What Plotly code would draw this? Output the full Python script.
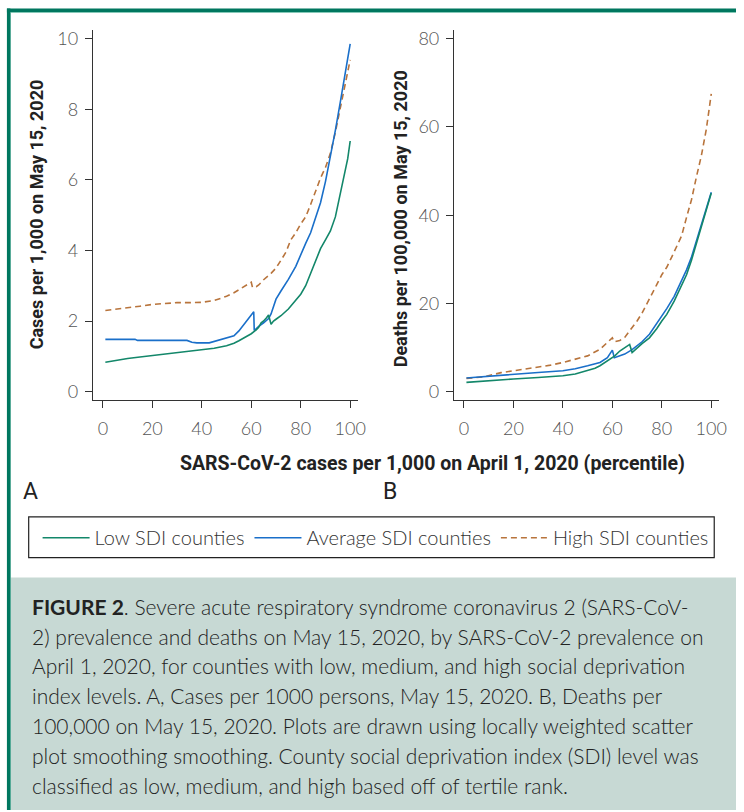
import plotly.graph_objects as go

W, H = 744, 812

# ---------------- data ----------------
# Panel A: cases per 1,000 on May 15, 2020
a_low_x = [1, 5, 10, 15, 20, 25, 30, 35, 40, 45, 50, 53, 55, 58, 60, 62, 63, 64, 65, 66, 67, 68, 69, 70,
           72, 75, 78, 80, 82, 84, 86, 88, 90, 92, 94, 96, 98, 99, 100]
a_low_y = [0.83, 0.88, 0.94, 0.98, 1.02, 1.06, 1.10, 1.14, 1.18, 1.23, 1.30, 1.37, 1.44, 1.55, 1.64, 1.75,
           1.82, 1.95, 2.00, 2.08, 2.17, 1.91, 2.00, 2.05, 2.15, 2.34, 2.58, 2.76, 3.00, 3.35, 3.75, 4.05,
           4.30, 4.55, 4.95, 5.60, 6.35, 6.60, 7.10]

a_avg_x = [1, 13, 14, 34, 36, 38, 43, 45, 48, 50, 53, 55, 57, 59, 61, 61.2, 63, 65, 67, 68, 70, 72, 75,
           78, 80, 82, 84, 86, 88, 90, 92, 94, 96, 98, 100]
a_avg_y = [1.48, 1.48, 1.45, 1.45, 1.40, 1.38, 1.38, 1.42, 1.48, 1.53, 1.58, 1.72, 1.90, 2.10, 2.26, 1.73,
           1.85, 1.95, 2.07, 2.20, 2.62, 2.85, 3.18, 3.55, 3.89, 4.20, 4.50, 4.90, 5.35, 5.95, 6.65, 7.40,
           8.20, 9.05, 9.85]

a_high_x = [1, 5, 10, 15, 20, 25, 30, 35, 40, 45, 50, 53, 55, 57, 59, 60, 60.5, 62, 63, 65, 68, 70, 72,
            74, 76, 78, 80, 82, 84, 86, 88, 90, 92, 94, 96, 98, 100]
a_high_y = [2.30, 2.33, 2.37, 2.42, 2.47, 2.50, 2.52, 2.52, 2.53, 2.58, 2.70, 2.80, 2.89, 2.98, 3.08, 3.10,
            2.95, 2.97, 3.02, 3.17, 3.35, 3.50, 3.72, 3.95, 4.30, 4.50, 4.75, 4.95, 5.30, 5.70, 6.05, 6.35,
            6.75, 7.35, 8.00, 8.65, 9.40]

# Panel B: deaths per 100,000 on May 15, 2020
b_low_x = [1, 10, 20, 30, 40, 45, 50, 53, 55, 58, 61, 63, 65, 67, 68, 70, 72, 75, 78, 80, 82, 85, 88,
           90, 92, 94, 96, 98, 100]
b_low_y = [2.1, 2.5, 2.85, 3.2, 3.6, 4.0, 4.73, 5.3, 5.86, 7.0, 8.1, 9.2, 10.0, 10.7, 8.86, 10.0, 10.9,
           12.2, 14.3, 16.0, 17.5, 20.5, 24.0, 26.5, 29.8, 33.5, 37.3, 40.8, 45.0]

b_avg_x = [1, 10, 20, 30, 40, 45, 50, 55, 58, 60, 60.8, 63, 65, 68, 70, 72, 75, 78, 80, 82, 85, 88, 90,
           92, 94, 96, 98, 100]
b_avg_y = [3.08, 3.5, 3.98, 4.35, 4.73, 5.2, 5.86, 6.6, 7.7, 9.4, 7.7, 8.1, 8.5, 9.5, 10.4, 11.3, 13.0,
           15.5, 17.1, 18.8, 21.6, 25.0, 27.6, 30.5, 34.2, 38.0, 41.5, 45.2]

b_high_x = [1, 8, 15, 20, 25, 30, 35, 40, 45, 50, 55, 58, 60, 60.8, 63, 65, 68, 70, 72, 75, 78, 80, 82,
            84, 86, 88, 90, 92, 94, 96, 98, 100]
b_high_y = [3.0, 3.35, 4.3, 4.73, 5.1, 5.5, 6.0, 6.6, 7.3, 8.1, 9.6, 11.3, 12.2, 11.3, 11.6, 12.3, 14.5,
            16.0, 17.8, 20.9, 24.3, 26.5, 28.2, 30.5, 33.0, 35.3, 39.5, 43.5, 48.7, 53.5, 59.5, 67.5]

series_names = ["Low SDI counties", "Average SDI counties", "High SDI counties"]
x_ticks = [0, 20, 40, 60, 80, 100]
a_y_ticks = [0, 2, 4, 6, 8, 10]
b_y_ticks = [0, 20, 40, 60, 80]

x_title = "SARS-CoV-2 cases per 1,000 on April 1, 2020 (percentile)"
a_y_title = "Cases per 1,000 on May 15, 2020"
b_y_title = "Deaths per 100,000 on May 15, 2020"

caption_lines = [
    "<b>FIGURE 2</b>. Severe acute respiratory syndrome coronavirus 2 (SARS-CoV-",
    "2) prevalence and deaths on May 15, 2020, by SARS-CoV-2 prevalence on",
    "April 1, 2020, for counties with low, medium, and high social deprivation",
    "index levels. A, Cases per 1000 persons, May 15, 2020. B, Deaths per",
    "100,000 on May 15, 2020. Plots are drawn using locally weighted scatter",
    "plot smoothing smoothing. County social deprivation index (SDI) level was",
    "classified as low, medium, and high based off of tertile rank.",
]

# ---------------- styling ----------------
GREEN = "#13876a"
BLUE = "#1a6fc9"
ORANGE = "#b8743c"
FRAME = "#00775f"
FRAME_LIGHT = "#86c9b8"
CAPTION_BG = "#c7d9d4"
AXIS = "#333333"
TICKFONT = dict(family="Lato", size=18, color="#555555", weight=300)
XTITLEFONT = dict(family="Roboto", size=19.5, color="#222222", weight=700)
YTITLEFONT = dict(family="Roboto", size=18, color="#222222", weight=700)


def px_x(px):
    """window pixel -> paper fraction"""
    return px / W


def px_y(py):
    return 1 - py / H


fig = go.Figure()

line_styles = [dict(color=GREEN, width=1.6), dict(color=BLUE, width=1.6),
               dict(color=ORANGE, width=1.6, dash="6px,4px")]

panel_a = [(a_low_x, a_low_y), (a_avg_x, a_avg_y), (a_high_x, a_high_y)]
panel_b = [(b_low_x, b_low_y), (b_avg_x, b_avg_y), (b_high_x, b_high_y)]

for i in [2, 1, 0]:
    xs, ys = panel_a[i]
    fig.add_trace(go.Scatter(x=xs, y=ys, mode="lines", name=series_names[i], line=line_styles[i],
                             xaxis="x", yaxis="y", legendrank=i + 1, showlegend=True))
for i in [2, 1, 0]:
    xs, ys = panel_b[i]
    fig.add_trace(go.Scatter(x=xs, y=ys, mode="lines", name=series_names[i], line=line_styles[i],
                             xaxis="x2", yaxis="y2", showlegend=False))

axis_common = dict(showline=True, linecolor=AXIS, linewidth=1.3, ticks="outside", ticklen=7,
                   tickwidth=1.3, tickcolor=AXIS, showgrid=False, zeroline=False, tickfont=TICKFONT,
                   fixedrange=True, tickangle=0)

fig.update_layout(
    width=W, height=H,
    margin=dict(l=0, r=0, t=0, b=0),
    paper_bgcolor="white", plot_bgcolor="white",
    showlegend=True,
    xaxis=dict(domain=[px_x(94), px_x(362)], range=[-4, 103.2], tickvals=x_ticks, anchor="y",
               ticklabelstandoff=6, **axis_common),
    yaxis=dict(domain=[px_y(399), px_y(27)], range=[-0.225, 10.25], tickvals=a_y_ticks, anchor="x",
               ticklabelstandoff=3, **axis_common),
    xaxis2=dict(domain=[px_x(459), px_x(727)], range=[-4, 103.2], tickvals=x_ticks, anchor="y2",
                ticklabelstandoff=6, **axis_common),
    yaxis2=dict(domain=[px_y(399), px_y(27)], range=[-1.8, 82.03], tickvals=b_y_ticks, anchor="x2",
                ticklabelstandoff=3, **axis_common),
    legend=dict(orientation="h", x=px_x(38), y=px_y(538), xanchor="left", yanchor="middle",
                bgcolor="rgba(0,0,0,0)", borderwidth=0, traceorder="normal", itemwidth=47,
                font=dict(family="Lato", size=20, color="#333333", weight=300)),
)

annotations = [
    dict(text=x_title, x=px_x(437), y=px_y(463), font=XTITLEFONT),
    dict(text=a_y_title, x=px_x(37), y=px_y(213), textangle=-90, font=YTITLEFONT),
    dict(text=b_y_title, x=px_x(405), y=px_y(217), textangle=-90, font=YTITLEFONT),
    dict(text="A", x=px_x(31), y=px_y(492), font=dict(family="Roboto", size=23, color="#222222")),
    dict(text="B", x=px_x(394), y=px_y(492), font=dict(family="Roboto", size=23, color="#222222")),
]
for k, line in enumerate(caption_lines):
    annotations.append(dict(text=line, x=px_x(30), y=px_y(607 + 30 * k), xanchor="left",
                            font=dict(family="Lato", size=21, color="#222222", weight=300)))
for a in annotations:
    a.setdefault("xanchor", "center")
    a.update(xref="paper", yref="paper", showarrow=False, yanchor="middle")
fig.update_layout(annotations=annotations)

shapes = [
    # caption background
    dict(type="rect", x0=px_x(10), x1=1, y0=0, y1=px_y(578), fillcolor=CAPTION_BG, line_width=0,
         layer="below"),
    # legend frame
    dict(type="rect", x0=px_x(29), x1=px_x(722), y0=px_y(558), y1=px_y(517),
         line=dict(color="#222222", width=1.2), fillcolor="rgba(0,0,0,0)"),
    # figure frame (top and left rules)
    dict(type="rect", x0=px_x(7), x1=1, y0=px_y(10), y1=px_y(9), fillcolor=FRAME_LIGHT, line_width=0),
    dict(type="rect", x0=px_x(10), x1=px_x(11), y0=0, y1=px_y(9), fillcolor=FRAME_LIGHT, line_width=0),
    dict(type="rect", x0=px_x(7), x1=1, y0=px_y(9), y1=px_y(5.5), fillcolor=FRAME, line_width=0),
    dict(type="rect", x0=px_x(7), x1=px_x(10.5), y0=0, y1=px_y(5.5), fillcolor=FRAME, line_width=0),
]
for s in shapes:
    s.update(xref="paper", yref="paper")
fig.update_layout(shapes=shapes)

# remove the default 8px page margin so the figure fills the 744x812 window exactly
fig.write_html("out.html", config={"displayModeBar": False},
               post_script="document.body.style.margin='0px';document.body.style.overflow='hidden';")
